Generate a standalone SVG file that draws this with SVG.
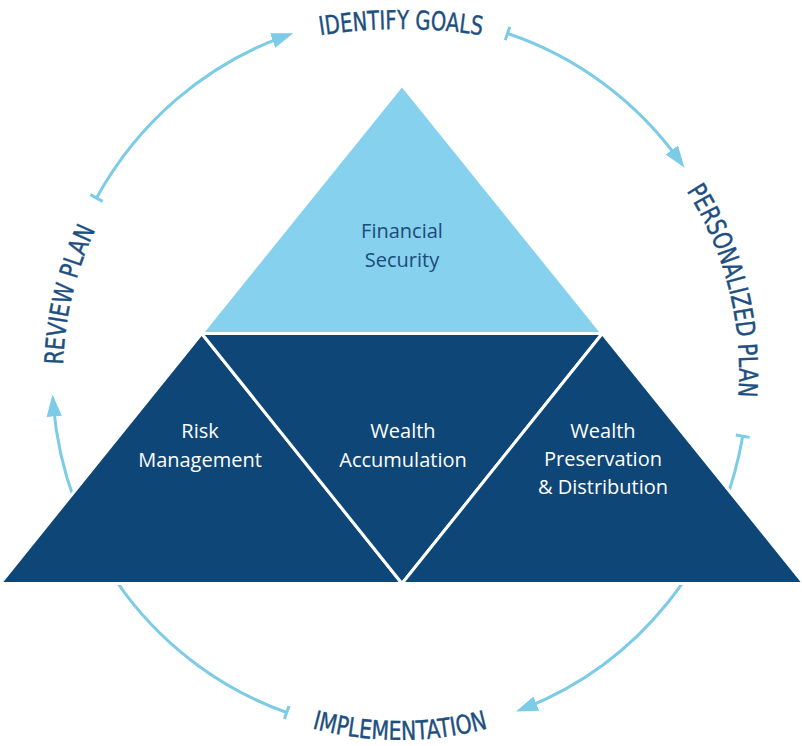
<svg xmlns="http://www.w3.org/2000/svg" width="802" height="746" viewBox="0 0 802 746">
  <style>
    .arc { fill: none; stroke: #7ccbe7; stroke-width: 3; }
    .dark { fill: #0e4677; stroke: #ffffff; stroke-width: 3; stroke-linejoin: miter; }
    .light { fill: #86d1ee; stroke: #ffffff; stroke-width: 3; }
    .in { font-family: "Open Sans", "Noto Sans", "Liberation Sans", sans-serif; font-size: 20px; font-weight: 500; text-anchor: middle; }
    .in-w { fill: #ffffff; }
    .in-n { fill: #1b4b78; }
    .step { font-family: "DejaVu Sans Condensed", "Liberation Sans Narrow", "DejaVu Sans", sans-serif; font-size: 26px; font-weight: normal; fill: #1d4f80; stroke: #1d4f80; stroke-width: 0.4; text-anchor: middle; }
  </style>
  <defs>
    <marker id="head" markerUnits="userSpaceOnUse" markerWidth="24" markerHeight="18" viewBox="0 -8 22 16" refX="12" refY="0" orient="auto">
      <path d="M0,-7 L20,0 L0,7 Z" fill="#7ccbe7"/>
    </marker>
    <marker id="tee" markerUnits="userSpaceOnUse" markerWidth="6" markerHeight="18" viewBox="-3 -9 6 18" refX="0" refY="0" orient="auto">
      <path d="M0,-7 L0,7" stroke="#7ccbe7" stroke-width="3"/>
    </marker>
    <!-- baselines for the curved step labels -->
    <path id="p-top" d="M141,98.7 A520,520 0 0 1 661,98.7"/>
    <path id="p-right" d="M570,79.3 A338,338 0 0 1 692.7,543"/>
    <path id="p-bottom" d="M105.6,570 A340,340 0 0 0 694.4,570"/>
    <path id="p-left" d="M108.2,542.5 A337,337 0 0 1 231.5,82.1"/>
  </defs>

  <!-- cycle arcs, drawn first so the pyramid sits over them -->
  <g id="connectors">
    <path class="arc" d="M96.5,198 A348,358 0 0 1 285,36.1" marker-start="url(#tee)" marker-end="url(#head)"/>
    <path class="arc" d="M507.5,33.5 A348,358 0 0 1 679.4,160.6" marker-start="url(#tee)" marker-end="url(#head)"/>
    <path class="arc" d="M742.7,436.2 A348,358 0 0 1 524.1,708.4" marker-start="url(#tee)" marker-end="url(#head)"/>
    <path class="arc" d="M286.7,712.5 A348,358 0 0 1 53.2,403.3" marker-start="url(#tee)" marker-end="url(#head)"/>
  </g>

  <g id="financial-security">
    <polygon class="light" points="402,85 201.7,333.5 602.3,333.5"/>
    <text class="in in-n" x="402" y="238">Financial</text>
    <text class="in in-n" x="402" y="267">Security</text>
  </g>

  <g id="risk-management">
    <polygon class="dark" points="201.7,333.5 402,583.5 0.2,583.5"/>
    <text class="in in-w" x="200" y="438">Risk</text>
    <text class="in in-w" x="200" y="467">Management</text>
  </g>

  <g id="wealth-accumulation">
    <polygon class="dark" points="201.7,333.5 602.3,333.5 402,583.5"/>
    <text class="in in-w" x="403" y="438">Wealth</text>
    <text class="in in-w" x="403" y="467">Accumulation</text>
  </g>

  <g id="wealth-preservation">
    <polygon class="dark" points="602.3,333.5 803.8,583.5 402,583.5"/>
    <text class="in in-w" x="603" y="438">Wealth</text>
    <text class="in in-w" x="603" y="466">Preservation</text>
    <text class="in in-w" x="603" y="494">&amp; Distribution</text>
  </g>

  <g id="identify-goals">
    <text class="step"><textPath href="#p-top" startOffset="50%" textLength="162" lengthAdjust="spacingAndGlyphs">IDENTIFY GOALS</textPath></text>
  </g>
  <g id="personalized-plan">
    <text class="step"><textPath href="#p-right" startOffset="50.8%" textLength="216" lengthAdjust="spacingAndGlyphs">PERSONALIZED PLAN</textPath></text>
  </g>
  <g id="implementation">
    <text class="step"><textPath href="#p-bottom" startOffset="50%" textLength="178" lengthAdjust="spacingAndGlyphs">IMPLEMENTATION</textPath></text>
  </g>
  <g id="review-plan">
    <text class="step"><textPath href="#p-left" startOffset="48.3%" textLength="140" lengthAdjust="spacingAndGlyphs">REVIEW PLAN</textPath></text>
  </g>
</svg>
